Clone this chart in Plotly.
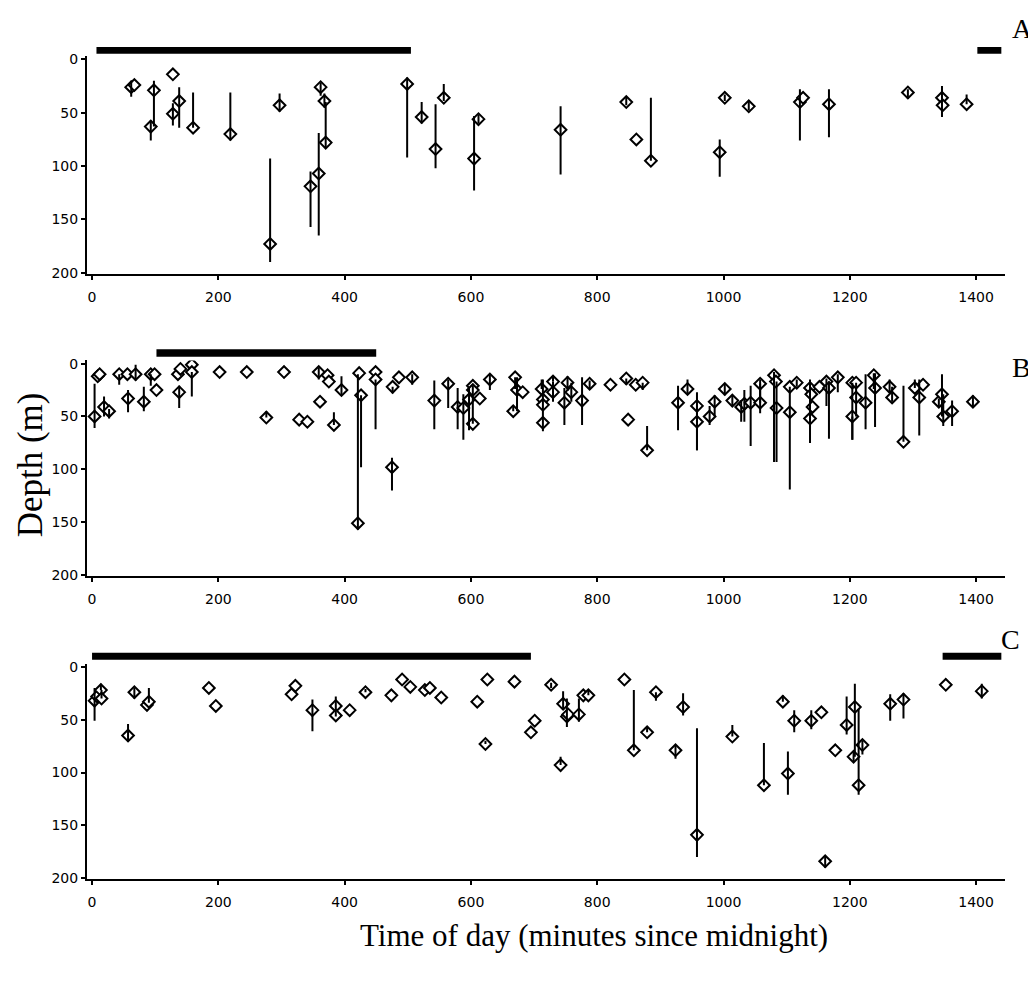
import plotly.graph_objects as go

# ---------------- Panel A ----------------
a_time = [62, 67, 93, 98, 128, 128, 138, 160, 219, 282, 297, 346, 359, 362, 368, 370,
          499, 522, 544, 557, 605, 612, 742, 846, 862, 885, 994, 1002, 1040, 1121, 1126,
          1167, 1292, 1346, 1347, 1385]
a_depth = [26, 24, 63, 29, 14, 51, 39, 64, 70, 173, 43, 119, 107, 26, 39, 78,
           23, 54, 84, 36, 93, 56, 66, 40, 75, 95, 87, 36, 44, 40, 36,
           42, 31, 36, 43, 42]
a_min = [20, 24, 57, 20, 14, 41, 26, 31, 31, 93, 32, 105, 69, 22, 32, 40,
         17, 40, 42, 23, 53, 52, 44, 35, 75, 36, 75, 33, 40, 28, 36,
         28, 28, 25, 43, 33]
a_max = [35, 24, 76, 63, 14, 62, 64, 64, 76, 190, 49, 157, 165, 34, 45, 82,
         92, 60, 102, 39, 123, 60, 108, 43, 75, 95, 110, 39, 48, 76, 36,
         73, 37, 54, 43, 42]
a_night = [[7, 505], [1402, 1440]]

# ---------------- Panel B ----------------
b_time = [4, 9, 12, 19, 27, 43, 56, 57, 69, 82, 93, 99, 102, 136, 138, 140, 158, 158,
          202, 245, 276, 304, 328, 341, 359, 361, 373, 375, 383, 395, 421, 423, 426,
          449, 449, 475, 476, 486, 507, 542, 564, 579, 588, 597, 603, 603, 603, 614,
          630, 667, 670, 673, 682, 712, 714, 714, 714, 730, 730, 748, 753, 759, 776,
          788, 821, 846, 849, 861, 872, 879, 928, 943, 958, 958, 978, 986, 1002, 1014,
          1028, 1033, 1043, 1058, 1058, 1080, 1083, 1084, 1105, 1105, 1116, 1137, 1139,
          1141, 1137, 1152, 1163, 1167, 1181, 1204, 1210, 1210, 1204, 1225, 1238, 1240,
          1263, 1267, 1285, 1303, 1310, 1316, 1341, 1346, 1348, 1362, 1395]
b_depth = [50, 12, 10, 41, 45, 10, 10, 33, 10, 36, 10, 10, 25, 10, 27, 5, 1, 8,
           8, 8, 51, 8, 53, 55, 8, 36, 11, 17, 58, 25, 151, 9, 30,
           8, 15, 98, 22, 13, 13, 35, 19, 41, 42, 34, 21, 25, 57, 33,
           15, 45, 13, 25, 27, 24, 34, 39, 56, 17, 27, 37, 18, 27, 35,
           19, 20, 14, 53, 20, 18, 82, 37, 24, 40, 55, 50, 36, 24, 35,
           41, 38, 37, 19, 37, 11, 17, 42, 22, 46, 18, 23, 29,
           41, 52, 22, 17, 23, 13, 18, 18, 32, 50, 37, 11, 23,
           22, 32, 74, 23, 32, 20, 36, 29, 50, 45, 36]
b_min = [19, 12, 10, 31, 43, 10, 10, 25, 1, 22, 10, 10, 25, 10, 21, 5, 1, 8,
         8, 8, 45, 8, 53, 55, 4, 36, 11, 17, 46, 12, 10, 9, 30,
         8, 15, 89, 22, 13, 10, 16, 15, 23, 29, 23, 21, 25, 21, 33,
         10, 40, 13, 13, 27, 15, 34, 39, 15, 12, 17, 23, 12, 18, 13,
         16, 20, 14, 53, 20, 18, 59, 21, 15, 27, 40, 40, 30, 19, 30,
         35, 25, 21, 15, 19, 8, 17, 17, 22, 46, 15, 15, 29,
         41, 52, 22, 14, 17, 10, 18, 18, 18, 50, 10, 9, 9,
         15, 22, 21, 15, 15, 20, 33, 10, 29, 35, 30]
b_max = [61, 12, 10, 50, 52, 20, 10, 46, 16, 45, 21, 10, 25, 10, 42, 5, 1, 31,
         8, 8, 51, 8, 53, 55, 15, 36, 11, 17, 58, 30, 157, 9, 98,
         8, 62, 120, 28, 13, 20, 62, 42, 62, 72, 63, 21, 25, 57, 33,
         25, 45, 24, 45, 27, 24, 34, 39, 64, 17, 36, 58, 26, 36, 58,
         24, 20, 20, 53, 20, 25, 82, 63, 29, 82, 82, 58, 50, 30, 40,
         55, 55, 78, 37, 47, 93, 17, 93, 119, 46, 22, 75, 29,
         41, 52, 22, 40, 71, 27, 72, 18, 50, 72, 62, 24, 60,
         27, 36, 74, 23, 68, 20, 40, 50, 59, 59, 41]
b_night = [[102, 450]]

# ---------------- Panel C ----------------
c_time = [4, 8, 14, 15, 57, 67, 87, 90, 185, 196, 316, 322, 349, 386, 386, 408, 433,
          474, 491, 504, 527, 535, 553, 610, 623, 626, 669, 695, 701, 727, 742, 746,
          752, 754, 771, 778, 786, 843, 858, 879, 893, 924, 936, 958, 1014, 1064,
          1094, 1102, 1112, 1139, 1155, 1161, 1177, 1195, 1206, 1208, 1214, 1220,
          1264, 1285, 1352, 1409]
c_depth = [32, 28, 22, 30, 65, 24, 36, 33, 20, 37, 26, 18, 41, 37, 46, 41, 24,
           27, 12, 19, 22, 20, 29, 33, 73, 12, 14, 62, 51, 17, 93, 35,
           47, 45, 45, 27, 27, 12, 79, 62, 24, 79, 38, 159, 66, 112,
           33, 101, 51, 51, 43, 184, 79, 55, 85, 38, 112, 74,
           35, 31, 17, 23]
c_min = [20, 28, 16, 22, 54, 20, 36, 20, 20, 37, 26, 18, 31, 28, 46, 41, 21,
         27, 12, 19, 22, 20, 29, 33, 70, 12, 14, 62, 51, 15, 85, 23,
         30, 45, 30, 27, 22, 12, 22, 56, 24, 75, 25, 58, 55, 72,
         27, 80, 41, 41, 43, 180, 79, 28, 80, 16, 40, 70,
         26, 25, 17, 16]
c_max = [51, 28, 22, 30, 71, 30, 36, 34, 20, 37, 26, 18, 61, 47, 46, 41, 24,
         27, 12, 19, 22, 20, 29, 33, 73, 12, 14, 62, 51, 20, 93, 40,
         57, 45, 52, 27, 27, 12, 79, 62, 32, 87, 46, 180, 66, 112,
         33, 121, 62, 59, 43, 190, 79, 64, 89, 85, 121, 83,
         51, 49, 17, 30]
c_night = [[0, 695], [1347, 1440]]

x_ticks = [0, 200, 400, 600, 800, 1000, 1200, 1400]
y_ticks = [0, 50, 100, 150, 200]

# The page body has an 8px default margin; the figure is sized to fit inside it.
OFF = 8
W, H = 1036 - OFF, 981 - OFF
SERIF = "Liberation Serif, Times New Roman, serif"
SANS = "DejaVu Sans, sans-serif"


def px_x(px):
    return (px - OFF) / W


def px_y(py):
    return 1 - (py - OFF) / H


panels = [
    dict(label="A", t=a_time, d=a_depth, lo=a_min, hi=a_max, night=a_night,
         y0=55.0, s=1.08, bar=(42.3, 49.3), lab=(1022, 24)),
    dict(label="B", t=b_time, d=b_depth, lo=b_min, hi=b_max, night=b_night,
         y0=363.0, s=1.07, bar=(348.5, 356.0), lab=(1021, 367)),
    dict(label="C", t=c_time, d=c_depth, lo=c_min, hi=c_max, night=c_night,
         y0=670.0, s=1.07, bar=(655.8, 662.8), lab=(1010, 642)),
]

YR = [201, -3]
fig = go.Figure()
shapes = []
annotations = []
layout = {}

for i, p in enumerate(panels):
    sfx = "" if i == 0 else str(i + 1)
    xa, ya = "x" + sfx, "y" + sfx
    top_px = p["y0"] + YR[1] * p["s"]
    bot_px = p["y0"] + YR[0] * p["s"]
    layout["xaxis" + sfx] = dict(
        domain=[px_x(87), px_x(1004.5)], range=[-8, 1445], anchor=ya,
        showline=True, linecolor="black", linewidth=2, mirror=False,
        ticks="outside", ticklen=4, tickwidth=1.5, tickcolor="black",
        ticklabelstandoff=5,
        tickvals=x_ticks, tickfont=dict(family=SANS, size=14, color="black"),
        showgrid=False, zeroline=False)
    layout["yaxis" + sfx] = dict(
        domain=[px_y(bot_px), px_y(top_px)], range=YR, anchor=xa,
        showline=True, linecolor="black", linewidth=2,
        ticks="outside", ticklen=4, tickwidth=1.5, tickcolor="black",
        tickvals=y_ticks, tickfont=dict(family=SANS, size=14, color="black"),
        showgrid=False, zeroline=False)

    fig.add_trace(go.Scatter(
        x=p["t"], y=p["d"], xaxis=xa, yaxis=ya, mode="markers",
        marker=dict(symbol="diamond", size=9, color="white",
                    line=dict(color="black", width=2)),
        showlegend=False, hoverinfo="skip"))
    fig.add_trace(go.Scatter(
        x=p["t"], y=p["d"], xaxis=xa, yaxis=ya, mode="markers",
        marker=dict(size=2, opacity=0),
        error_y=dict(type="data", symmetric=False,
                     array=[h - d for h, d in zip(p["hi"], p["d"])],
                     arrayminus=[d - l for l, d in zip(p["lo"], p["d"])],
                     thickness=2, width=0, color="black"),
        showlegend=False, hoverinfo="skip"))

    for x0, x1 in p["night"]:
        shapes.append(dict(type="rect", xref=xa, yref="paper",
                           x0=x0, x1=x1,
                           y0=px_y(p["bar"][1]), y1=px_y(p["bar"][0]),
                           fillcolor="black", line=dict(width=0), layer="above"))

    annotations.append(dict(text=p["label"], xref="paper", yref="paper",
                            x=px_x(p["lab"][0]), y=px_y(p["lab"][1]),
                            xanchor="center", yanchor="middle", showarrow=False,
                            font=dict(family=SERIF, size=28, color="black")))

annotations.append(dict(text="Depth (m)", xref="paper", yref="paper",
                        x=px_x(30), y=px_y(466), textangle=-90,
                        xanchor="center", yanchor="middle", showarrow=False,
                        font=dict(family=SERIF, size=35, color="black")))
annotations.append(dict(text="Time of day (minutes since midnight)", xref="paper", yref="paper",
                        x=px_x(594), y=px_y(942),
                        xanchor="center", yanchor="middle", showarrow=False,
                        font=dict(family=SERIF, size=31, color="black")))

fig.update_layout(
    width=W, height=H, margin=dict(l=0, r=0, t=0, b=0),
    paper_bgcolor="white", plot_bgcolor="white",
    shapes=shapes, annotations=annotations, **layout)

fig.write_html("out.html")
